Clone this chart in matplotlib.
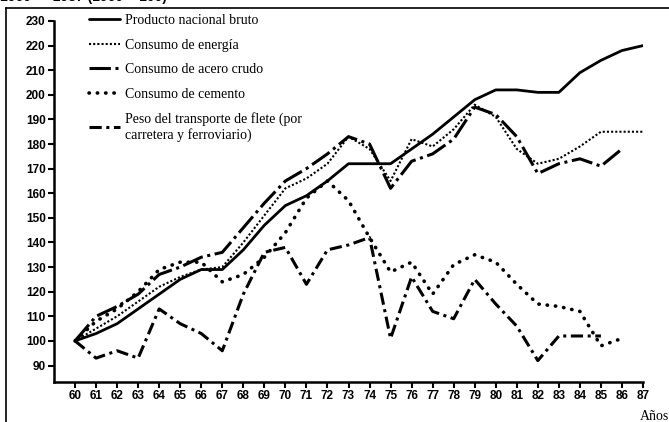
import matplotlib
matplotlib.use("Agg")
import matplotlib.pyplot as plt
from matplotlib.lines import Line2D

years = list(range(60, 88))
pnb = [100, 103, 107, 113, 119, 125, 129, 129, 137, 147, 155, 159, 165, 172,
       172, 172, 178, 184, 191, 198, 202, 202, 201, 201, 209, 214, 218, 220]
energia = [100, 105, 110, 116, 122, 126, 129, 130, 140, 151, 162, 166, 172, 183,
           178, 165, 182, 179, 186, 196, 191, 178, 172, 174, 179, 185, 185, 185]
acero = [100, 110, 114, 119, 127, 130, 134, 136, 146, 156, 165, 170, 176, 183,
         180, 162, 173, 176, 182, 195, 192, 183, 168, 172, 174, 171, 178]
cemento = [100, 108, 113, 120, 129, 132, 132, 124, 127, 134, 144, 158, 165, 157,
           142, 128, 132, 119, 131, 135, 132, 123, 115, 114, 112, 98, 101]
flete = [100, 93, 96, 93, 113, 107, 103, 96, 119, 136, 138, 123, 137, 139,
         142, 101, 126, 112, 109, 125, 115, 106, 92, 102, 102, 102]

labels = ["Producto nacional bruto", "Consumo de energía",
          "Consumo de acero crudo", "Consumo de cemento",
          "Peso del transporte de flete (por\ncarretera y ferroviario)"]
yticks = list(range(90, 231, 10))

W, H = 669, 422
fig = plt.figure(figsize=(W / 100, H / 100), dpi=100)
ax = fig.add_axes([54 / W, 1 - 382 / H, (643 - 54) / W, (382 - 21) / H])

k = "black"
l1, = ax.plot(years[:len(pnb)], pnb, color=k, lw=2.0, solid_capstyle="round")
l2, = ax.plot(years[:len(energia)], energia, color=k, lw=1.5, linestyle=(0, (1, 1)))
l3, = ax.plot(years[:len(acero)], acero, color=k, lw=2.2, linestyle=(0, (7, 1.5, 1, 1.5)))
l4, = ax.plot(years[:len(cemento)], cemento, color=k, lw=2.6, linestyle=(0, (0.1, 2.2)),
              dash_capstyle="round")
l5, = ax.plot(years[:len(flete)], flete, color=k, lw=2.2, linestyle=(0, (4, 1.5, 1, 1.5)))

ax.set_xlim(59, 87)
ax.set_ylim(83.3, 230)
ax.set_xticks(years)
ax.set_xticklabels([str(y) for y in years])
ax.set_yticks(yticks)
ax.set_yticklabels([str(v) for v in yticks])
for s in ["top", "right"]:
    ax.spines[s].set_visible(False)
ax.spines["left"].set_linewidth(1.8)
ax.spines["bottom"].set_linewidth(1.8)
ax.spines["left"].set_bounds(83.3, 230)
ax.spines["bottom"].set_bounds(59, 87)
ax.tick_params(axis="both", direction="out", length=4, width=1.5, pad=2)
for t in ax.get_xticklabels() + ax.get_yticklabels():
    t.set_fontfamily("Liberation Sans")
    t.set_fontweight("bold")
    t.set_fontsize(8.5)

leg = fig.legend([l1, l2, l3, l4, l5], labels, loc="upper left",
                 bbox_to_anchor=(89 / W, 1 - 14 / H), frameon=False,
                 prop={"family": "Liberation Serif", "size": 10},
                 handlelength=2.2, handletextpad=0.4, labelspacing=0.83,
                 borderpad=0, borderaxespad=0)

fig.text(640 / W, 1 - 416 / H, "Años", family="Liberation Serif", fontsize=10,
         ha="left", va="center")
fig.text(0.0, 1 - 4 / H, "1960 — 1987 (1960 = 100)", family="Liberation Sans",
         fontweight="bold", fontsize=10, ha="left", va="bottom")

fig.add_artist(Line2D([6 / W, 1], [1 - 8 / H, 1 - 8 / H], color=k, lw=1.2,
                      transform=fig.transFigure))
fig.add_artist(Line2D([6 / W, 6 / W], [0, 1 - 8 / H], color=k, lw=1.2,
                      transform=fig.transFigure))

fig.savefig("out.png", dpi=100)
